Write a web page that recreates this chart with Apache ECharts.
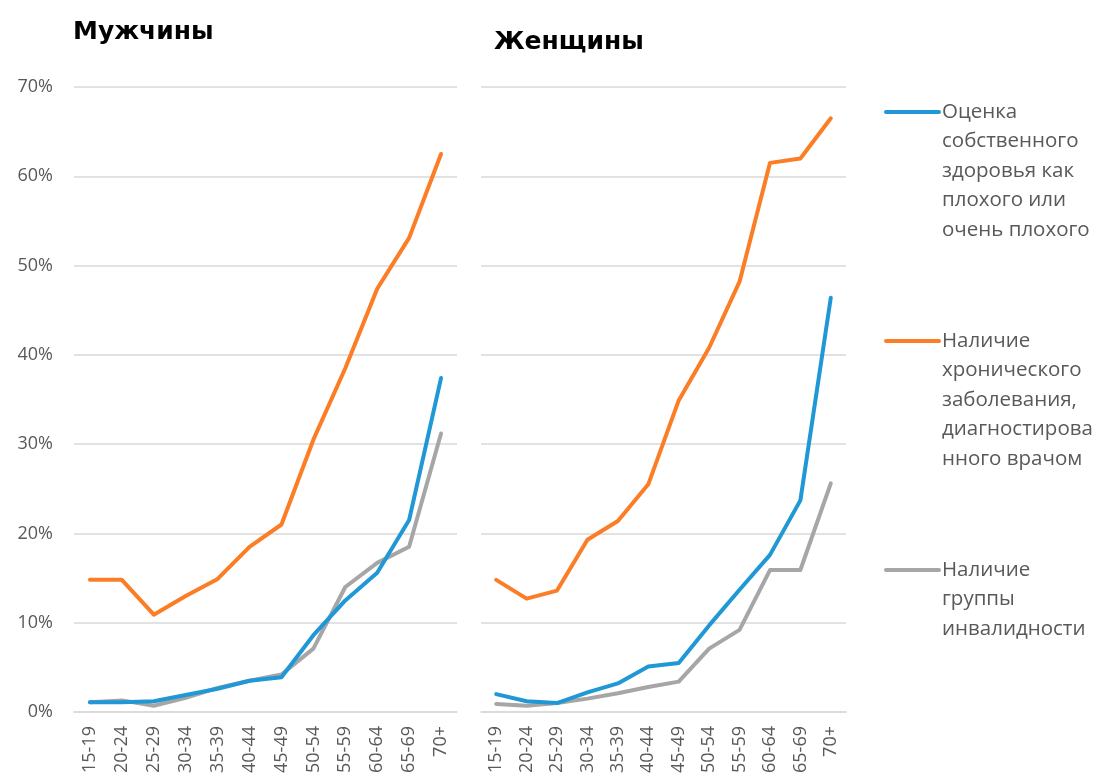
<!DOCTYPE html>
<html>
<head>
<meta charset="utf-8">
<script src="https://cdn.jsdelivr.net/npm/echarts@6/dist/echarts.min.js"></script>
<style>
  html, body { margin: 0; padding: 0; background: #fff; }
  #chart { width: 1100px; height: 782px; }
</style>
</head>
<body>
<div id="chart"></div>
<script>
// Age groups shared by both panels
const ageGroups = ['15-19','20-24','25-29','30-34','35-39','40-44','45-49','50-54','55-59','60-64','65-69','70+'];

// Y-axis ticks (percent)
const yTicks = [0, 10, 20, 30, 40, 50, 60, 70];

// Men, %
const menSelfRatedPoor = [1.1, 1.1, 1.2, 1.9, 2.6, 3.5, 3.9, 8.6, 12.5, 15.6, 21.5, 37.4];
const menChronic       = [14.8, 14.8, 10.9, 13.0, 14.9, 18.5, 21.0, 30.5, 38.5, 47.4, 53.1, 62.5];
const menDisability    = [1.1, 1.3, 0.7, 1.6, 2.7, 3.5, 4.2, 7.1, 14.0, 16.7, 18.5, 31.2];

// Women, %
const womenSelfRatedPoor = [2.0, 1.2, 1.0, 2.2, 3.2, 5.1, 5.5, 9.7, 13.7, 17.6, 23.7, 46.4];
const womenChronic       = [14.8, 12.7, 13.6, 19.3, 21.4, 25.5, 34.9, 40.8, 48.2, 61.5, 62.0, 66.5];
const womenDisability    = [0.9, 0.7, 1.0, 1.5, 2.1, 2.8, 3.4, 7.1, 9.2, 15.9, 15.9, 25.6];

// Series names (legend text)
const seriesNames = [
  'Оценка\nсобственного\nздоровья как\nплохого или\nочень плохого',
  'Наличие\nхронического\nзаболевания,\nдиагностирова\nнного врачом',
  'Наличие\nгруппы\nинвалидности'
];
const panelTitles = ['Мужчины', 'Женщины'];

const colors = ['#1f98d5', '#fb7d25', '#a6a6a6'];
const textColor = '#595959';
const gridColor = '#d9d9d9';
const fontFamily = '"Open Sans", "Noto Sans", sans-serif';

const chart = echarts.init(document.getElementById('chart'));

function xAxis(gridIndex) {
  return {
    type: 'category',
    gridIndex,
    data: ageGroups,
    boundaryGap: true,
    axisLine: { show: true, lineStyle: { color: gridColor, width: 1.5 } },
    axisTick: { show: false },
    axisLabel: {
      rotate: 90,
      interval: 0,
      color: textColor,
      fontSize: 18,
      fontFamily,
      margin: 14
    }
  };
}

function yAxis(gridIndex, showLabels) {
  return {
    type: 'value',
    gridIndex,
    min: yTicks[0],
    max: yTicks[yTicks.length - 1],
    interval: 10,
    axisLine: { show: false },
    axisTick: { show: false },
    splitLine: { lineStyle: { color: gridColor, width: 1.5 } },
    axisLabel: {
      show: showLabels,
      color: textColor,
      fontSize: 18,
      fontFamily,
      margin: 21,
      formatter: v => v + '%'
    }
  };
}

function lineSeries(idx, gridIdx, data) {
  return {
    type: 'line',
    name: seriesNames[idx],
    xAxisIndex: gridIdx,
    yAxisIndex: gridIdx,
    data,
    symbol: 'none',
    smooth: false,
    lineStyle: { color: colors[idx], width: 4, cap: 'round', join: 'round' },
    itemStyle: { color: colors[idx] },
    z: 3 - idx
  };
}

// Legend block: one short line sample beside each multi-line name
const legendTop = [112, 341, 570];
const legendGraphics = [];
seriesNames.forEach((name, i) => {
  legendGraphics.push({
    type: 'line',
    shape: { x1: 886, y1: legendTop[i], x2: 939, y2: legendTop[i] },
    style: { stroke: colors[i], lineWidth: 4, lineCap: 'round' }
  });
  legendGraphics.push({
    type: 'text',
    x: 942,
    y: legendTop[i] - 14.8,
    style: {
      text: name,
      fill: textColor,
      font: '20.5px ' + fontFamily,
      lineHeight: 29.5,
      verticalAlign: 'top'
    }
  });
});

chart.setOption({
  backgroundColor: '#fff',
  animation: false,
  title: [
    { text: panelTitles[0], left: 68, top: 15,
      textStyle: { fontSize: 25, fontWeight: 'bold', color: '#000', fontFamily: '"DejaVu Sans", sans-serif' } },
    { text: panelTitles[1], left: 489, top: 25,
      textStyle: { fontSize: 25, fontWeight: 'bold', color: '#000', fontFamily: '"DejaVu Sans", sans-serif' } }
  ],
  grid: [
    { left: 74, top: 87, width: 383, height: 625 },
    { left: 481, top: 87, width: 365, height: 625 }
  ],
  xAxis: [xAxis(0), xAxis(1)],
  yAxis: [yAxis(0, true), yAxis(1, false)],
  series: [
    lineSeries(0, 0, menSelfRatedPoor),
    lineSeries(1, 0, menChronic),
    lineSeries(2, 0, menDisability),
    lineSeries(0, 1, womenSelfRatedPoor),
    lineSeries(1, 1, womenChronic),
    lineSeries(2, 1, womenDisability)
  ],
  graphic: legendGraphics
});
</script>
</body>
</html>
